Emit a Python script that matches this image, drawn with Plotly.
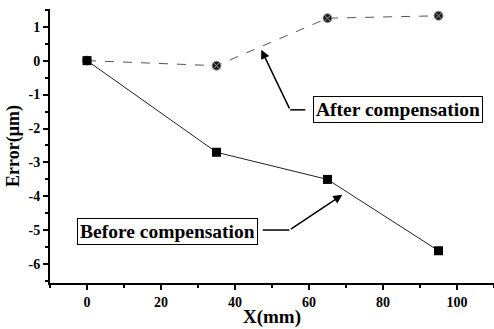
import plotly.graph_objects as go

x_pos = [0, 35, 65, 95]
before_vals = [0, -2.7, -3.5, -5.6]
after_vals = [0, -0.15, 1.25, 1.32]
x_ticks = [0, 20, 40, 60, 80, 100]
y_ticks = [1, 0, -1, -2, -3, -4, -5, -6]

FONT = "Liberation Serif"

fig = go.Figure()
fig.add_trace(go.Scatter(
    x=x_pos, y=after_vals, mode="lines+markers", name="After compensation",
    line=dict(color="#555555", width=1, dash="dash"),
    marker=dict(symbol="circle-x", size=9, color="#1a1a1a",
                line=dict(color="#999999", width=1)),
))
fig.add_trace(go.Scatter(
    x=x_pos, y=before_vals, mode="lines+markers", name="Before compensation",
    line=dict(color="#222222", width=1),
    marker=dict(symbol="square", size=9, color="#000000"),
))

# annotation boxes
fig.add_annotation(x=84.0, y=-1.45, text="<b>After compensation</b>", showarrow=False,
                   font=dict(family=FONT, size=19.5, color="black"),
                   bordercolor="black", borderwidth=1, bgcolor="white", borderpad=2)
fig.add_annotation(x=21.8, y=-5.04, text="<b>Before compensation</b>", showarrow=False,
                   font=dict(family=FONT, size=19.5, color="black"),
                   bordercolor="black", borderwidth=1, bgcolor="white", borderpad=2)

# arrows
fig.add_annotation(x=47.1, y=0.32, ax=54.9, ay=-1.45, axref="x", ayref="y",
                   text="", showarrow=True, arrowhead=2, arrowsize=1.2,
                   arrowwidth=1.5, arrowcolor="black")
fig.add_annotation(x=69.0, y=-3.95, ax=54.7, ay=-4.99, axref="x", ayref="y",
                   text="", showarrow=True, arrowhead=2, arrowsize=1.2,
                   arrowwidth=1.5, arrowcolor="black")
fig.add_shape(type="line", x0=54.9, y0=-1.45, x1=59.0, y1=-1.45,
              line=dict(color="black", width=1.5))
fig.add_shape(type="line", x0=47.5, y0=-4.99, x1=54.7, y1=-4.99,
              line=dict(color="black", width=1.5))

fig.update_layout(
    width=494, height=329,
    margin=dict(l=50, r=0, t=9, b=46),
    paper_bgcolor="white", plot_bgcolor="white",
    showlegend=False,
    font=dict(family=FONT, color="black"),
)
fig.update_xaxes(
    range=[-10, 110], tickvals=x_ticks, ticktext=[str(v) for v in x_ticks],
    tickfont=dict(family=FONT, size=14, color="black", weight="bold"),
    showline=True, linecolor="black", linewidth=2, showgrid=False, zeroline=False,
    ticks="outside", ticklen=5, tickwidth=2, tickcolor="black",
    minor=dict(dtick=10, tick0=0, ticks="outside", ticklen=3, tickwidth=1.5, tickcolor="black"),
    title=dict(text="<b>X(mm)</b>", font=dict(family=FONT, size=19, color="black"), standoff=1),
    automargin=False,
)
fig.update_yaxes(
    range=[-6.55, 1.52], tickvals=y_ticks, ticktext=[str(v) for v in y_ticks],
    tickfont=dict(family=FONT, size=14, color="black", weight="bold"),
    showline=True, linecolor="black", linewidth=2, showgrid=False, zeroline=False,
    ticks="outside", ticklen=5, tickwidth=2, tickcolor="black",
    minor=dict(dtick=0.5, tick0=0, ticks="outside", ticklen=3, tickwidth=1.5, tickcolor="black"),
    title=dict(text="<b>Error(μm)</b>", font=dict(family=FONT, size=18, color="black"), standoff=4),
    automargin=False,
)

fig.write_html("out.html", config={"displayModeBar": False},
               post_script="document.body.style.margin='0';")
